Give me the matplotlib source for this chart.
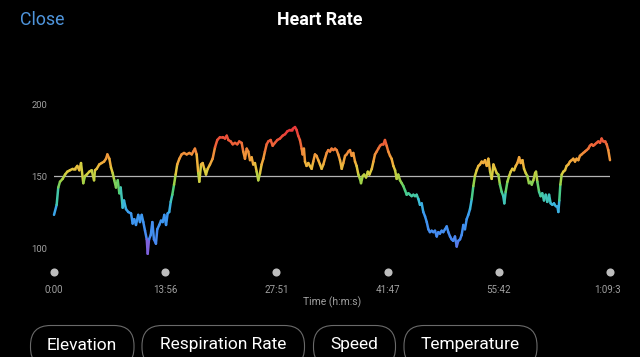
import numpy as np
import matplotlib
matplotlib.use("Agg")
import matplotlib.pyplot as plt
from matplotlib.collections import LineCollection
from matplotlib.colors import LinearSegmentedColormap, Normalize
from matplotlib.patches import FancyBboxPatch, Rectangle
import matplotlib.transforms as mtransforms

# ---------------- data ----------------
time_s = [0, 20, 32, 45, 65, 83, 100, 120, 141, 158, 175, 190, 203, 220, 233, 246, 265, 283, 301, 308,
          321, 340, 358, 376, 391, 401, 416, 428, 441, 453, 466, 479, 491, 501, 516, 526, 541, 558, 579, 591,
          603, 616, 633, 646, 659, 671, 684, 697, 704, 714, 727, 739, 751, 766, 776, 791, 804, 817, 829, 842,
          854, 866, 877, 889, 902, 914, 926, 942, 959, 977, 997, 1017, 1035, 1047, 1059, 1072, 1084, 1092, 1105, 1117,
          1129, 1142, 1155, 1172, 1192, 1210, 1227, 1247, 1268, 1285, 1298, 1310, 1328, 1343, 1360, 1377, 1392, 1410, 1422, 1435,
          1448, 1460, 1473, 1485, 1497, 1510, 1523, 1535, 1548, 1560, 1573, 1585, 1598, 1610, 1628, 1643, 1660, 1678, 1698, 1718,
          1736, 1753, 1773, 1786, 1798, 1811, 1823, 1835, 1848, 1861, 1868, 1878, 1886, 1898, 1911, 1923, 1936, 1948, 1961, 1973,
          1986, 1999, 2011, 2024, 2036, 2049, 2061, 2074, 2086, 2099, 2112, 2124, 2136, 2149, 2162, 2174, 2187, 2199, 2212, 2224,
          2237, 2249, 2262, 2274, 2287, 2299, 2307, 2320, 2330, 2345, 2358, 2370, 2388, 2400, 2412, 2425, 2437, 2450, 2462, 2475,
          2487, 2500, 2512, 2525, 2537, 2550, 2563, 2575, 2587, 2600, 2613, 2625, 2638, 2650, 2663, 2675, 2688, 2700, 2713, 2725,
          2738, 2750, 2763, 2775, 2788, 2801, 2813, 2825, 2838, 2850, 2863, 2876, 2888, 2900, 2913, 2925, 2938, 2951, 2963, 2976,
          2988, 3000, 3013, 3026, 3038, 3051, 3063, 3076, 3088, 3101, 3113, 3126, 3139, 3151, 3163, 3176, 3189, 3201, 3214, 3226,
          3239, 3252, 3264, 3277, 3289, 3302, 3314, 3327, 3339, 3351, 3364, 3376, 3384, 3394, 3407, 3420, 3432, 3444, 3457, 3470,
          3482, 3495, 3507, 3520, 3532, 3545, 3557, 3569, 3582, 3590, 3602, 3615, 3622, 3632, 3645, 3657, 3669, 3682, 3695, 3707,
          3720, 3732, 3745, 3757, 3770, 3782, 3790, 3797, 3805, 3815, 3827, 3840, 3852, 3865, 3877, 3890, 3902, 3915, 3927, 3940,
          3952, 3965, 3977, 3990, 4003, 4015, 4027, 4040, 4052, 4065, 4077, 4090, 4103, 4115, 4127, 4140, 4153, 4165, 4178]

heart_rate = [123, 130, 142, 146, 148, 151, 153, 154, 155, 155, 157, 154, 159, 145, 150, 151, 153, 154, 147, 154,
              155, 158, 159, 160, 162, 165, 162, 156, 152, 147, 142, 147, 138, 142, 128, 133, 127, 125, 124, 117,
              120, 116, 123, 118, 123, 118, 112, 106, 96, 106, 109, 118, 106, 103, 113, 116, 119, 118, 123, 116,
              124, 125, 132, 137, 144, 151, 158, 162, 165, 166, 165, 166, 165, 167, 169, 165, 152, 146, 158, 159,
              155, 151, 155, 158, 162, 170, 175, 177, 177, 176, 178, 175, 174, 172, 173, 172, 174, 173, 167, 162,
              169, 167, 161, 163, 158, 159, 153, 147, 152, 158, 162, 167, 172, 174, 175, 171, 173, 175, 176, 178,
              179, 181, 182, 182, 183, 184, 182, 178, 175, 169, 165, 169, 160, 157, 159, 157, 155, 160, 165, 164,
              161, 158, 155, 158, 162, 166, 168, 167, 169, 168, 169, 168, 165, 161, 155, 159, 164, 165, 167, 168,
              164, 166, 160, 157, 151, 148, 145, 150, 151, 149, 153, 151, 155, 160, 165, 167, 169, 171, 172, 172,
              175, 171, 167, 164, 162, 157, 154, 148, 151, 147, 145, 143, 140, 137, 138, 137, 136, 137, 136, 137,
              134, 130, 131, 125, 122, 118, 113, 111, 112, 111, 112, 108, 111, 110, 112, 111, 113, 115, 111, 108,
              106, 105, 108, 101, 105, 106, 109, 116, 113, 120, 123, 127, 134, 143, 150, 154, 157, 158, 160, 159,
              161, 157, 162, 153, 148, 158, 155, 152, 151, 144, 139, 136, 131, 139, 146, 150, 153, 155, 154, 157,
              159, 163, 159, 161, 155, 152, 150, 145, 146, 144, 147, 152, 153, 146, 139, 136, 138, 133, 137, 132,
              137, 131, 130, 131, 129, 129, 125, 133, 144, 151, 153, 154, 157, 158, 160, 161, 162, 160, 162, 161,
              164, 165, 166, 167, 168, 169, 171, 172, 171, 172, 173, 174, 173, 176, 174, 174, 172, 168, 161]

tick_seconds = [0, 836, 1671, 2507, 3342, 4178]
tick_labels = ["0:00", "13:56", "27:51", "41:47", "55:42", "1:09:38"]
y_ticks = [100, 150, 200]
reference_bpm = 150
buttons = ["Elevation", "Respiration Rate", "Speed", "Temperature"]

# ---------------- figure ----------------
W, H = 640, 357
fig = plt.figure(figsize=(W / 100, H / 100), dpi=100, facecolor="black")
FONT = ["Roboto", "DejaVu Sans"]
plt.rcParams["font.family"] = FONT

# overlay axes in pixel coordinates for decorations
ov = fig.add_axes([0, 0, 1, 1], facecolor="none")
ov.set_xlim(0, W)
ov.set_ylim(H, 0)
ov.axis("off")

# main chart axes
x0, x1 = 54, 610
yt, yb = 104, 248
ax = fig.add_axes([x0 / W, 1 - yb / H, (x1 - x0) / W, (yb - yt) / H], facecolor="none")
ax.set_xlim(0, tick_seconds[-1])
ax.set_ylim(100, 200)
for s in ax.spines.values():
    s.set_visible(False)

# colour map: hue wheel over heart rate
stops = [(95, "#e8304a"), (99, "#9a4cd0"), (104, "#4a86f0"), (124, "#3a9af0"),
         (132, "#3cbfd6"), (140, "#4ccf7a"), (147, "#9ad248"), (153, "#dccd40"),
         (159, "#f2b03c"), (166, "#f08e3a"), (173, "#ee6038"), (182, "#e83a3a")]
lo, hi = stops[0][0], stops[-1][0]
cmap = LinearSegmentedColormap.from_list(
    "hr", [((v - lo) / (hi - lo), c) for v, c in stops])
norm = Normalize(lo, hi)

t = np.asarray(time_s, float)
hr = np.asarray(heart_rate, float)
pts = np.column_stack([t, hr]).reshape(-1, 1, 2)
segs = np.concatenate([pts[:-1], pts[1:]], axis=1)
vals = (hr[:-1] + hr[1:]) / 2
lc = LineCollection(segs, colors=cmap(norm(vals)), linewidths=1.8,
                    capstyle="round", joinstyle="round", clip_on=False, zorder=3)
ax.add_collection(lc)

# reference line
ax.axhline(reference_bpm, color="#b4b4b4", lw=0.9, zorder=2)

# y tick labels
ax.set_yticks(y_ticks)
ax.set_yticklabels([str(v) for v in y_ticks])
ax.tick_params(axis="y", length=0, pad=5, labelsize=6.8, labelcolor="#a0a0a0")

# x ticks: dots + labels
ax.set_xticks(tick_seconds)
ax.set_xticklabels(tick_labels)
ax.tick_params(axis="x", length=0, pad=26.5, labelsize=7, labelcolor="#a0a0a0")
dot_tr = mtransforms.blended_transform_factory(ax.transData, fig.transFigure)
ax.scatter(tick_seconds, [1 - 271.5 / H] * len(tick_seconds), s=34, color="#bdbdbd",
           transform=dot_tr, clip_on=False, zorder=3, linewidths=0)
clip = Rectangle((0, 0), 620 / W, 1, transform=fig.transFigure, visible=False)
fig.add_artist(clip)
for lab in ax.get_xticklabels():
    lab.set_clip_path(clip)
    lab.set_clip_on(True)

ov.text(332, 302, "Time (h:m:s)", color="#a0a0a0", fontsize=7.5, ha="center", va="center")

# header
ov.text(320, 20, "Heart Rate", color="white", fontsize=12.8, fontweight="bold",
        ha="center", va="center")
ov.text(20, 20, "Close", color="#4f95dc", fontsize=12.8, ha="left", va="center")

# buttons
btn_x = [(30.5, 134), (142, 304.5), (313.5, 395.5), (404, 537)]
for (bx0, bx1), name in zip(btn_x, buttons):
    p = FancyBboxPatch((bx0, 325.5), bx1 - bx0, 42, boxstyle="round,pad=0,rounding_size=20",
                       facecolor="black", edgecolor="#6a6a6a", lw=0.8, clip_on=False)
    ov.add_patch(p)
    ov.text((bx0 + bx1) / 2, 345, name, color="white", fontsize=12.5, ha="center", va="center")

fig.savefig("out.png", dpi=100, facecolor="black")
